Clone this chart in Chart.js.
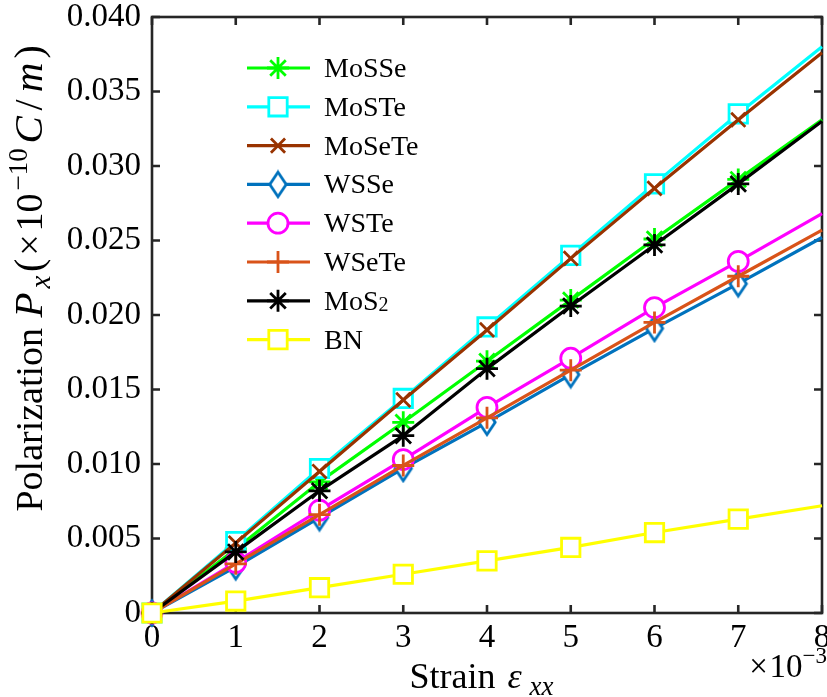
<!DOCTYPE html>
<html>
<head>
<meta charset="utf-8">
<script src="https://cdn.jsdelivr.net/npm/chart.js@4/dist/chart.umd.min.js"></script>
<style>
  html, body { margin: 0; padding: 0; background: #fff; }
  #wrap { width: 827px; height: 697px; }
</style>
</head>
<body>
<div id="wrap"><canvas id="c" width="827" height="697"></canvas></div>
<script>
// Strain (x 10^-3) and polarization P_x (x 10^-10 C/m) for each monolayer
const strain = [0, 1, 2, 3, 4, 5, 6, 7, 8];
const MoSSe  = [0, 0.0043, 0.0088, 0.0128, 0.0169, 0.0210, 0.0251, 0.0291, 0.0331];
const MoSTe  = [0, 0.0048, 0.0097, 0.0144, 0.0192, 0.0240, 0.0288, 0.0335, 0.0380];
const MoSeTe = [0, 0.0047, 0.0095, 0.0143, 0.0190, 0.0238, 0.0285, 0.0331, 0.0376];
const WSSe   = [0, 0.0031, 0.0064, 0.0097, 0.0128, 0.0160, 0.0191, 0.0221, 0.0252];
const WSTe   = [0, 0.0034, 0.0069, 0.0103, 0.0138, 0.0171, 0.0205, 0.0236, 0.0268];
const WSeTe  = [0, 0.0033, 0.0066, 0.0099, 0.0131, 0.0163, 0.0195, 0.0226, 0.0257];
const MoS2   = [0, 0.0041, 0.0082, 0.0119, 0.0164, 0.0206, 0.0247, 0.0288, 0.0330];
const BN     = [0, 0.0008, 0.0017, 0.0026, 0.0035, 0.0044, 0.0054, 0.0063, 0.0072];

const seriesNames = ['MoSSe', 'MoSTe', 'MoSeTe', 'WSSe', 'WSTe', 'WSeTe', 'MoS2', 'BN'];
const seriesData  = [MoSSe, MoSTe, MoSeTe, WSSe, WSTe, WSeTe, MoS2, BN];

const xTickValues = [0, 1, 2, 3, 4, 5, 6, 7, 8];
const yTickValues = [0, 0.005, 0.010, 0.015, 0.020, 0.025, 0.030, 0.035, 0.040];
const yTickLabels = ['0', '0.005', '0.010', '0.015', '0.020', '0.025', '0.030', '0.035', '0.040'];

const SERIF = '"Liberation Serif", "Times New Roman", serif';
const AXIS_COLOR = '#262626';

// Tall hollow diamond marker
function makeDiamond(color) {
  const w = 22, h = 30, lw = 2.8;
  const cv = document.createElement('canvas');
  cv.width = w; cv.height = h;
  const g = cv.getContext('2d');
  g.beginPath();
  g.moveTo(w / 2, lw);
  g.lineTo(w - lw, h / 2);
  g.lineTo(w / 2, h - lw);
  g.lineTo(lw, h / 2);
  g.closePath();
  g.fillStyle = '#fff';
  g.fill();
  g.lineWidth = lw;
  g.strokeStyle = color;
  g.stroke();
  return cv;
}

const styles = [
  { color: '#00ff00', point: 'star',     radius: 11,   fill: '#00ff00' },
  { color: '#00ffff', point: 'rect',     radius: 13,   fill: '#ffffff' },
  { color: '#993300', point: 'crossRot', radius: 10,   fill: '#993300' },
  { color: '#0072bd', point: makeDiamond('#0072bd'), radius: 11, fill: '#ffffff' },
  { color: '#ff00ff', point: 'circle',   radius: 10,   fill: '#ffffff' },
  { color: '#d95319', point: 'cross',    radius: 11,   fill: '#d95319' },
  { color: '#000000', point: 'star',     radius: 11,   fill: '#000000' },
  { color: '#ffff00', point: 'rect',     radius: 13,   fill: '#ffffff' }
];

// markers at the computed strains 0..7; the line carries on to 8
function radiiFor(r) { return strain.map(x => (x < 8 ? r : 0)); }

const datasets = seriesNames.map((name, i) => ({
  label: name,
  data: strain.map((x, k) => ({ x: x, y: seriesData[i][k] })),
  borderColor: styles[i].color,
  backgroundColor: styles[i].fill,
  borderWidth: 3.2,
  pointStyle: styles[i].point,
  pointRadius: radiiFor(styles[i].radius),
  pointBorderColor: styles[i].color,
  pointBackgroundColor: styles[i].fill,
  pointBorderWidth: 2.8,
  tension: 0,
  clip: false,
  order: seriesNames.length - i
}));

// draw a run of text pieces; each piece may carry its own font, shift and slot width
function drawRich(ctx, parts, x, y, align) {
  let total = 0;
  parts.forEach(p => {
    ctx.font = p.font;
    p.w = ctx.measureText(p.text).width;
    p.slot = Math.max(p.w, p.slot || 0);
    total += p.slot;
  });
  let cx = align === 'center' ? x - total / 2 : (align === 'right' ? x - total : x);
  ctx.textAlign = 'left';
  ctx.textBaseline = 'alphabetic';
  parts.forEach(p => {
    ctx.font = p.font;
    ctx.fillText(p.text, cx + (p.slot - p.w) / 2, y + (p.dy || 0));
    cx += p.slot;
  });
}

const framePlugin = {
  id: 'frame',
  beforeDatasetsDraw(chart) {
    const { ctx, chartArea: a, scales } = chart;
    ctx.save();
    ctx.strokeStyle = AXIS_COLOR;
    ctx.lineWidth = 2.6;
    ctx.strokeRect(a.left, a.top, a.right - a.left, a.bottom - a.top);
    const tl = 8;
    ctx.beginPath();
    xTickValues.forEach(v => {
      const px = scales.x.getPixelForValue(v);
      ctx.moveTo(px, a.bottom); ctx.lineTo(px, a.bottom - tl);
      ctx.moveTo(px, a.top);    ctx.lineTo(px, a.top + tl);
    });
    yTickValues.forEach(v => {
      const py = scales.y.getPixelForValue(v);
      ctx.moveTo(a.left, py);  ctx.lineTo(a.left + tl, py);
      ctx.moveTo(a.right, py); ctx.lineTo(a.right - tl, py);
    });
    ctx.stroke();
    ctx.restore();
  },
  afterDraw(chart) {
    const { ctx } = chart;
    ctx.save();
    ctx.fillStyle = '#000';

    // y title, rotated
    ctx.save();
    ctx.translate(42, 278);
    ctx.rotate(-Math.PI / 2);
    drawRich(ctx, [
      { text: 'Polarization ', font: '38px ' + SERIF },
      { text: 'P', font: 'italic 41px ' + SERIF, slot: 27 },
      { text: 'x', font: 'italic 29px ' + SERIF, dy: 8, slot: 19 },
      { text: '(', font: '40px ' + SERIF, slot: 14 },
      { text: '\u00d7', font: '38px ' + SERIF, slot: 27 },
      { text: '10', font: '38px ' + SERIF, slot: 38 },
      { text: '\u221210', font: '27px ' + SERIF, dy: -15, slot: 48 },
      { text: 'C', font: 'italic 41px ' + SERIF, slot: 31 },
      { text: '/', font: '40px ' + SERIF, slot: 19 },
      { text: 'm', font: 'italic 41px ' + SERIF, slot: 36 },
      { text: ')', font: '40px ' + SERIF, slot: 15 }
    ], 0, 0, 'center');
    ctx.restore();

    // x title
    drawRich(ctx, [
      { text: 'Strain ', font: '36px ' + SERIF },
      { text: '\u03b5', font: 'italic 36px ' + SERIF, slot: 20 },
      { text: 'xx', font: 'italic 27px ' + SERIF, dy: 7, slot: 34 }
    ], 484, 688, 'center');

    // exponent of the x axis
    drawRich(ctx, [
      { text: '\u00d7', font: '33px ' + SERIF, slot: 22 },
      { text: '10', font: '33px ' + SERIF },
      { text: '\u22123', font: '23px ' + SERIF, dy: -14 }
    ], 827, 677, 'right');

    // legend
    const lx0 = 247, lx1 = 310, mx = 278, tx = 324, y0 = 68, dy = 38.8;
    seriesNames.forEach((name, i) => {
      const y = y0 + i * dy;
      const st = styles[i];
      ctx.strokeStyle = st.color;
      ctx.lineWidth = 3.2;
      ctx.beginPath();
      ctx.moveTo(lx0, y); ctx.lineTo(lx1, y);
      ctx.stroke();
      ctx.fillStyle = st.fill;
      ctx.lineWidth = 2.8;
      Chart.helpers.drawPoint(ctx, {
        pointStyle: st.point, radius: st.radius, rotation: 0, borderWidth: 2.8
      }, mx, y);
      ctx.fillStyle = '#000';
      if (name === 'MoS2') {
        drawRich(ctx, [
          { text: 'MoS', font: '28px ' + SERIF },
          { text: '2', font: '20px ' + SERIF, dy: 1 }
        ], tx, y + 9, 'left');
      } else {
        drawRich(ctx, [{ text: name, font: '28px ' + SERIF }], tx, y + 9, 'left');
      }
    });
    ctx.restore();
  }
};

new Chart(document.getElementById('c'), {
  type: 'line',
  data: { datasets: datasets },
  options: {
    responsive: false,
    animation: false,
    devicePixelRatio: 1,
    layout: { autoPadding: false, padding: { left: 0, right: 5, top: 17, bottom: 0 } },
    plugins: { legend: { display: false }, tooltip: { enabled: false } },
    elements: { line: { borderCapStyle: 'butt', borderJoinStyle: 'round' } },
    scales: {
      x: {
        type: 'linear',
        min: 0, max: 8,
        grid: { display: true, drawOnChartArea: false, drawTicks: false },
        border: { display: false },
        afterBuildTicks: s => { s.ticks = xTickValues.map(v => ({ value: v })); },
        afterFit: s => { s.height = 84; s.paddingLeft = 0; s.paddingRight = 0; },
        ticks: {
          color: '#000',
          font: { family: SERIF, size: 33 },
          padding: 6,
          maxRotation: 0,
          autoSkip: false,
          callback: v => String(v)
        }
      },
      y: {
        type: 'linear',
        min: 0, max: 0.04,
        grid: { display: true, drawOnChartArea: false, drawTicks: false },
        border: { display: false },
        afterBuildTicks: s => { s.ticks = yTickValues.map(v => ({ value: v })); },
        afterFit: s => { s.width = 152; s.paddingTop = 0; s.paddingBottom = 0; },
        ticks: {
          color: '#000',
          font: { family: SERIF, size: 33 },
          padding: 11,
          autoSkip: false,
          callback: (v, idx) => yTickLabels[idx]
        }
      }
    }
  },
  plugins: [framePlugin]
});
</script>
</body>
</html>
